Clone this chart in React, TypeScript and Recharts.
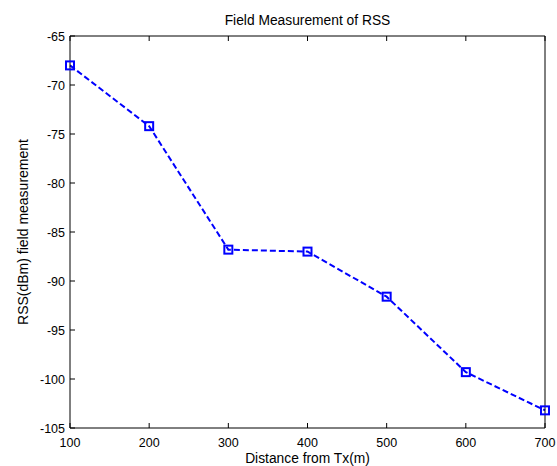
import React from "react";
import { LineChart, Line, XAxis, YAxis, Label } from "recharts";

// distance from the transmitter (m) and the measured RSS (dBm)
const distances = [100, 200, 300, 400, 500, 600, 700];
const rssValues = [-68, -74.2, -86.8, -87.0, -91.6, -99.3, -103.2];

const xTicks = [100, 200, 300, 400, 500, 600, 700];
const yTicks = [-105, -100, -95, -90, -85, -80, -75, -70, -65];

const titleText = "Field Measurement of RSS";
const xLabelText = "Distance from Tx(m)";
const yLabelText = "RSS(dBm) field measurement";

const chartData = distances.map((d, i) => ({ distance: d, rss: rssValues[i] }));

const FONT = "'Liberation Sans', Arial, Helvetica, sans-serif";
const BLUE = "#0000ff";

const BottomTick = (props: any) => {
    const { x, y, payload } = props;
    return (
        <g>
            <line x1={x} y1={y} x2={x} y2={y - 5} stroke="#000" />
            <text x={x} y={y + 19} textAnchor="middle" fontSize={12.5} fontFamily={FONT} fill="#000">
                {payload.value}
            </text>
        </g>
    );
};

const LeftTick = (props: any) => {
    const { x, y, payload } = props;
    return (
        <g>
            <line x1={x} y1={y} x2={x + 5} y2={y} stroke="#000" />
            <text x={x - 5} y={y + 4.5} textAnchor="end" fontSize={12.5} fontFamily={FONT} fill="#000">
                {payload.value}
            </text>
        </g>
    );
};

const TopTick = (props: any) => {
    const { x, y } = props;
    return <line x1={x} y1={y} x2={x} y2={y + 5} stroke="#000" />;
};

const RightTick = (props: any) => {
    const { x, y } = props;
    return <line x1={x} y1={y} x2={x - 5} y2={y} stroke="#000" />;
};

const SquareDot = (props: any) => {
    const { cx, cy, index } = props;
    if (cx == null || cy == null) return null;
    return (
        <rect
            key={index}
            x={cx - 4}
            y={cy - 4}
            width={8}
            height={8}
            fill="none"
            stroke={BLUE}
            strokeWidth={2}
        />
    );
};

const TitleLabel = (props: any) => {
    const { x, y, width, height } = props.viewBox;
    return (
        <text x={x + width / 2} y={y + height - 11} textAnchor="middle" fontSize={13.8} fontFamily={FONT} fill="#000">
            {titleText}
        </text>
    );
};

const XTitle = (props: any) => {
    const { x, y, width, height } = props.viewBox;
    return (
        <text x={x + width / 2} y={y + height - 3} textAnchor="middle" fontSize={13.8} fontFamily={FONT} fill="#000">
            {xLabelText}
        </text>
    );
};

const YTitle = (props: any) => {
    const { x, y, height } = props.viewBox;
    const tx = x + 28;
    const ty = y + height / 2;
    return (
        <text
            x={tx}
            y={ty}
            textAnchor="middle"
            fontSize={14}
            fontFamily={FONT}
            fill="#000"
            transform={`rotate(-90, ${tx}, ${ty})`}
        >
            {yLabelText}
        </text>
    );
};

export default function App() {
    return (
        <div style={{ position: "absolute", left: 0, top: 0, background: "#fff" }}>
            <LineChart
                width={557}
                height={466}
                data={chartData}
                margin={{ top: 0, right: 0, bottom: 0, left: 0 }}
            >
                <XAxis
                    xAxisId="bottom"
                    dataKey="distance"
                    type="number"
                    domain={[100, 700]}
                    ticks={xTicks}
                    height={38}
                    axisLine={{ stroke: "#000" }}
                    tickLine={false}
                    tickSize={0}
                    tickMargin={0}
                    tick={BottomTick}
                    interval={0}
                >
                    <Label content={XTitle} />
                </XAxis>
                <XAxis
                    xAxisId="top"
                    orientation="top"
                    dataKey="distance"
                    type="number"
                    domain={[100, 700]}
                    ticks={xTicks}
                    height={36}
                    axisLine={{ stroke: "#000" }}
                    tickLine={false}
                    tickSize={0}
                    tickMargin={0}
                    tick={TopTick}
                    interval={0}
                >
                    <Label content={TitleLabel} />
                </XAxis>
                <YAxis
                    yAxisId="left"
                    type="number"
                    domain={[-105, -65]}
                    ticks={yTicks}
                    width={70}
                    axisLine={{ stroke: "#000" }}
                    tickLine={false}
                    tickSize={0}
                    tickMargin={0}
                    tick={LeftTick}
                    interval={0}
                >
                    <Label content={YTitle} />
                </YAxis>
                <YAxis
                    yAxisId="right"
                    orientation="right"
                    type="number"
                    domain={[-105, -65]}
                    ticks={yTicks}
                    width={12}
                    axisLine={{ stroke: "#000" }}
                    tickLine={false}
                    tickSize={0}
                    tickMargin={0}
                    tick={RightTick}
                    interval={0}
                />
                <Line
                    xAxisId="bottom"
                    yAxisId="left"
                    type="linear"
                    dataKey="rss"
                    stroke={BLUE}
                    strokeWidth={2}
                    strokeDasharray="6 3"
                    dot={SquareDot}
                    activeDot={false}
                    isAnimationActive={false}
                />
            </LineChart>
        </div>
    );
}
